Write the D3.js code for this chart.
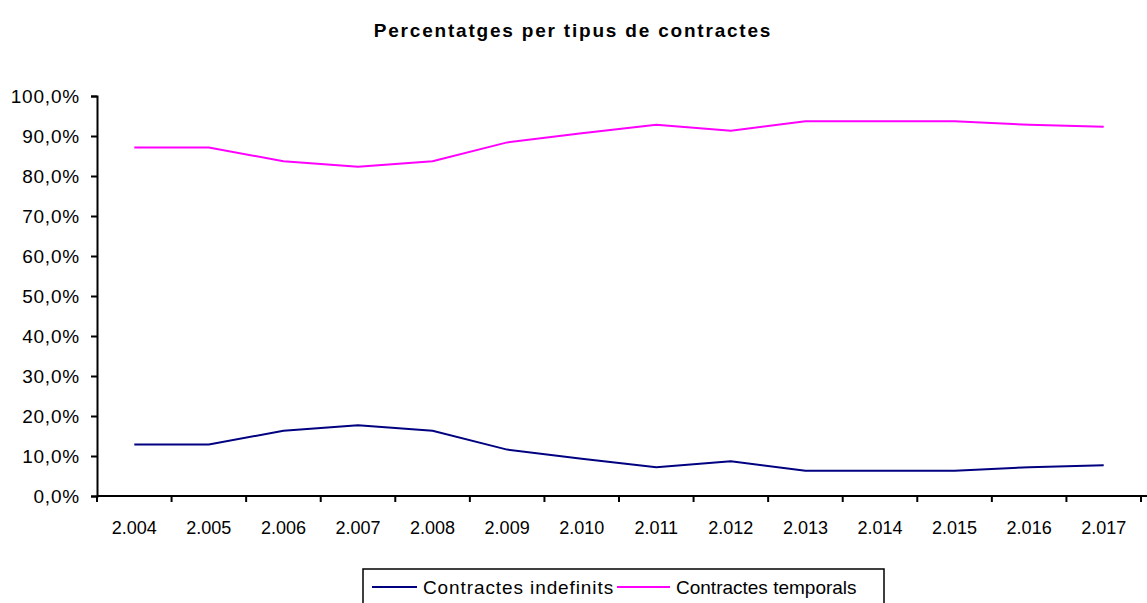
<!DOCTYPE html>
<html>
<head>
<meta charset="utf-8">
<script src="https://cdn.jsdelivr.net/npm/d3@7"></script>
<style>
  body { margin: 0; background: #fff; }
  svg { display: block; font-family: "Liberation Sans", Arial, sans-serif; }
  .axis path, .axis line { stroke: #000; stroke-width: 2; }
  .axis text { font-size: 18px; fill: #000; }
  .y.axis text { font-size: 19px; letter-spacing: 0.8px; }
</style>
</head>
<body>
<svg id="chart" width="1147" height="603"></svg>
<script>
// chart data
const years = ["2.004", "2.005", "2.006", "2.007", "2.008", "2.009", "2.010",
               "2.011", "2.012", "2.013", "2.014", "2.015", "2.016", "2.017"];
const indefinits = [12.9, 12.9, 16.3, 17.7, 16.3, 11.6, 9.3, 7.2, 8.7, 6.3, 6.3, 6.3, 7.2, 7.7];
const temporals  = [87.1, 87.1, 83.7, 82.3, 83.7, 88.4, 90.7, 92.8, 91.3, 93.7, 93.7, 93.7, 92.8, 92.3];
const yTicks = [0, 10, 20, 30, 40, 50, 60, 70, 80, 90, 100];
const seriesNames = ["Contractes indefinits", "Contractes temporals"];
const seriesColors = ["#000080", "#ff00ff"];

const margin = {top: 96, right: 6, bottom: 107, left: 97};
const width = 1147 - margin.left - margin.right;
const height = 603 - margin.top - margin.bottom;

const svg = d3.select("#chart");

svg.append("text")
    .attr("x", 573)
    .attr("y", 37)
    .attr("text-anchor", "middle")
    .style("font-size", "19px")
    .style("font-weight", "bold")
    .style("letter-spacing", "1.8px")
    .text("Percentatges per tipus de contractes");

const chart = svg.append("g")
    .attr("transform", "translate(" + margin.left + "," + margin.top + ")");

const xScale = d3.scaleBand().domain(years).range([0, width]);
const yScale = d3.scaleLinear().domain([0, 100]).range([height, 0]);

const fmt = d => d.toFixed(1).replace(".", ",") + "%";

chart.append("g")
    .attr("class", "y axis")
    .call(d3.axisLeft(yScale).tickValues(yTicks).tickFormat(fmt).tickSize(6).tickSizeOuter(6).tickPadding(11));

// x axis: ticks sit on category boundaries, labels centred
const xAxis = chart.append("g")
    .attr("class", "x axis")
    .attr("transform", "translate(0," + height + ")");
xAxis.append("line")
    .attr("x1", 0).attr("x2", 1147 - margin.left);
xAxis.selectAll(".tick-mark")
    .data(d3.range(years.length + 1))
    .enter().append("line")
    .attr("x1", i => i * xScale.step())
    .attr("x2", i => i * xScale.step())
    .attr("y1", 0).attr("y2", 6);
xAxis.selectAll(".label")
    .data(years)
    .enter().append("text")
    .attr("x", d => xScale(d) + xScale.bandwidth() / 2)
    .attr("y", 38)
    .attr("text-anchor", "middle")
    .text(d => d);

const line = d3.line()
    .x((d, i) => xScale(years[i]) + xScale.bandwidth() / 2)
    .y(d => yScale(d));

[indefinits, temporals].forEach((s, k) => {
    chart.append("path")
        .datum(s)
        .attr("fill", "none")
        .attr("stroke", seriesColors[k])
        .attr("stroke-width", 2)
        .attr("d", line);
});

// legend
const legendX = [9, 254];
const legendLine = [45, 53];
const legend = svg.append("g").attr("transform", "translate(363,569)");
legend.append("rect")
    .attr("width", 521).attr("height", 40)
    .attr("fill", "#fff").attr("stroke", "#000").attr("stroke-width", 1.5);
const items = legend.selectAll(".item")
    .data(seriesNames)
    .enter().append("g")
    .attr("transform", (d, i) => "translate(" + legendX[i] + ",0)");
items.append("line")
    .attr("x1", 0).attr("x2", (d, i) => legendLine[i]).attr("y1", 18).attr("y2", 18)
    .attr("stroke", (d, i) => seriesColors[i]).attr("stroke-width", 2);
items.append("text")
    .attr("x", (d, i) => legendLine[i] + 6).attr("y", 25)
    .style("font-size", "19px")
    .style("letter-spacing", (d, i) => i === 0 ? "0.9px" : "0px")
    .text(d => d);
</script>
</body>
</html>
